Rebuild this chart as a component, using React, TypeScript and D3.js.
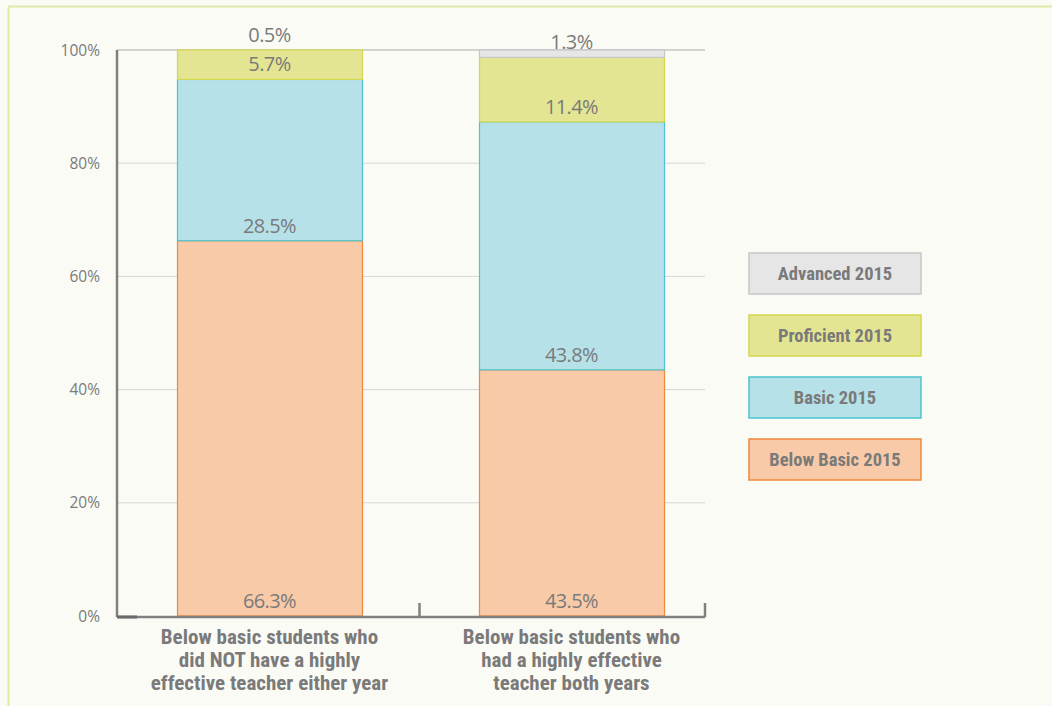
import React from "react";
import * as d3 from "d3";

const categories = [
  ["Below basic students who", "did NOT have a highly", "effective teacher either year"],
  ["Below basic students who", "had a highly effective", "teacher both years"],
];
const seriesNames = ["Below Basic 2015", "Basic 2015", "Proficient 2015", "Advanced 2015"];
const belowBasic = [66.3, 43.5];
const basic = [28.5, 43.8];
const proficient = [5.7, 11.4];
const advanced = [0.5, 1.3];
const yTicks = [0, 20, 40, 60, 80, 100];

const fills = ["#f8caa7", "#b6e1e8", "#e3e592", "#e6e6e6"];
const strokes = ["#f0883a", "#4cc3cf", "#d5d84c", "#c6c6c6"];
const textGray = "#7a7a7a";
const labelFont = "'Liberation Sans Narrow', 'Roboto Condensed', 'Open Sans', sans-serif";

export default function App() {
  const W = 1052, H = 706;
  const x0 = 117, x1 = 705, yTop = 50, yBot = 616;
  const y = d3.scaleLinear().domain([0, 100]).range([yBot, yTop]).clamp(true);
  const xb = d3.scaleLinear().domain([0, 1]).range([177, 479]);
  const bw = 185;
  const values = [belowBasic, basic, proficient, advanced];
  const rows = [0, 1].map((i) => {
    const o: any = { i };
    values.forEach((v, k) => (o[k] = v[i]));
    return o;
  });
  const stack = d3.stack<any>().keys([0, 1, 2, 3] as any)(rows);

  return (
    <svg width={W} height={H} style={{ position: "absolute", left: 0, top: 0, background: "#fff" }}>
      <rect x={0} y={0} width={W} height={H} fill="#fbfbf6" />
      <line x1={8.5} y1={7} x2={8.5} y2={H} stroke="#e2e8a6" strokeWidth={2} />
      <line x1={8} y1={6.5} x2={W} y2={6.5} stroke="#e2e8a6" strokeWidth={2} />
      {yTicks.map((t) => (
        <g key={t}>
          {t > 0 && (
            <line x1={x0} x2={x1} y1={y(t)} y2={y(t)} stroke={t === 100 ? "#c4c4c4" : "#d6d6d6"} strokeWidth={t === 100 ? 1.5 : 1} />
          )}
          <text x={100} y={y(t) + 5.5} textAnchor="end" fontFamily="'Open Sans', sans-serif" fontSize={15.5} fill={textGray}>
            {t}%
          </text>
        </g>
      ))}
      {stack.map((layer, k) =>
        layer.map((d, i) => (
          <rect
            key={`${k}-${i}`}
            x={xb(i) + 0.5}
            y={y(d[1])}
            width={bw}
            height={y(d[0]) - y(d[1])}
            fill={fills[k]}
            stroke={strokes[k]}
            strokeWidth={1.2}
          />
        ))
      )}
      {stack.map((layer, k) =>
        layer.map((d, i) => (
          <text
            key={`t${k}-${i}`}
            x={xb(i) + bw / 2}
            y={y(d[0]) - 8}
            textAnchor="middle"
            fontFamily="'Open Sans', sans-serif"
            fontSize={20}
            letterSpacing={-0.6}
            fill={textGray}
          >
            {values[k][i].toFixed(1)}%
          </text>
        ))
      )}
      {/* axes */}
      <line x1={x0} x2={x0} y1={yTop} y2={yBot + 1} stroke="#808080" strokeWidth={2.5} />
      <line x1={x0} x2={x1} y1={yBot + 1} y2={yBot + 1} stroke="#808080" strokeWidth={2.5} />
      <line x1={x0} x2={137} y1={yBot + 1} y2={yBot + 1} stroke="#6a6a6a" strokeWidth={3} />
      {[419.5, x1].map((tx) => (
        <line key={tx} x1={tx} x2={tx} y1={603} y2={yBot + 1} stroke="#808080" strokeWidth={2.5} />
      ))}
      {categories.map((lines, i) => (
        <text key={i} textAnchor="middle" fontFamily={labelFont} fontWeight="bold" fontSize={21} fill={textGray}>
          {lines.map((l, j) => (
            <tspan key={j} x={xb(i) + bw / 2} y={644 + j * 23}>
              {l}
            </tspan>
          ))}
        </text>
      ))}
      {/* legend */}
      {[3, 2, 1, 0].map((k, j) => (
        <g key={k}>
          <rect x={749} y={253 + j * 62} width={172} height={41} fill={fills[k]} stroke={strokes[k]} strokeWidth={1.5} />
          <text x={835} y={280 + j * 62} textAnchor="middle" fontFamily={labelFont} fontWeight="bold" fontSize={18.5} fill={textGray}>
            {seriesNames[k]}
          </text>
        </g>
      ))}
    </svg>
  );
}
